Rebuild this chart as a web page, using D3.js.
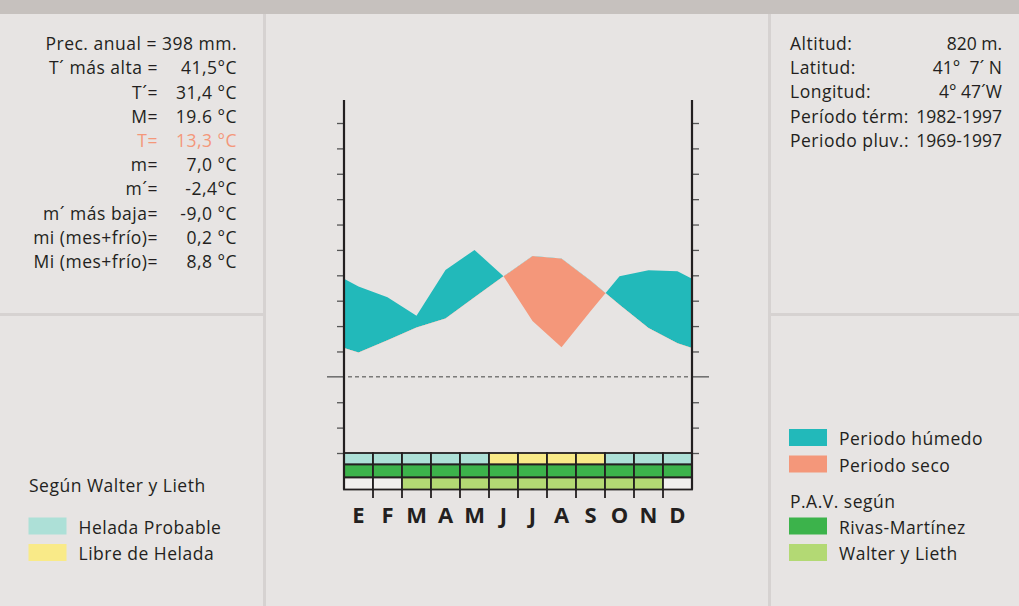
<!DOCTYPE html>
<html>
<head>
<meta charset="utf-8">
<script src="https://cdn.jsdelivr.net/npm/d3@7"></script>
<style>
  html, body { margin: 0; padding: 0; background: #e7e4e3; }
  svg { display: block; font-family: "Open Sans", "Noto Sans", sans-serif; }
  text { white-space: pre; }
</style>
</head>
<body>
<svg id="chart" width="1019" height="606"></svg>
<script>
// Monthly climate series (°C and mm)
const months = ["E", "F", "M", "A", "M", "J", "J", "A", "S", "O", "N", "D"];
const temperature = [4.8, 7.2, 9.7, 11.5, 15.7, 19.8, 23.8, 23.3, 19.0, 14.2, 9.6, 6.6];
const precipitation = [35.6, 31.4, 24.1, 42.1, 50.0, 39.6, 22.0, 11.7, 25.8, 39.6, 42.0, 41.6];

// Strips under the diagram: frost (0 = probable, 1 = free) and active vegetation period
const frost = [0, 0, 0, 0, 0, 1, 1, 1, 1, 0, 0, 0];
const pavRivas = [1, 1, 1, 1, 1, 1, 1, 1, 1, 1, 1, 1];
const pavWalter = [0, 0, 1, 1, 1, 1, 1, 1, 1, 1, 1, 0];

const tempTicks = d3.range(-15, 51, 5);

const statLabels = ["T´ más alta =", "T´=", "M=", "T=", "m=", "m´=", "m´ más baja=", "mi (mes+frío)=", "Mi (mes+frío)="];
const statValues = ["41,5°C", "31,4 °C", "19.6 °C", "13,3 °C", "7,0 °C", "-2,4°C", "-9,0 °C", "0,2 °C", "8,8 °C"];
const stationLabels = ["Altitud:", "Latitud:", "Longitud:", "Período térm:", "Periodo pluv.:"];
const stationValues = ["820 m.", "41°  7´ N", "4° 47´W", "1982-1997", "1969-1997"];

const C = {
  bg: "#e7e4e3", band: "#c6c1be", sep: "#d6d2d1", ink: "#231f20",
  wet: "#22b9ba", dry: "#f4977a", frost: "#ade0d7", free: "#f9ea88",
  rivas: "#3cb34b", walter: "#b3d974", empty: "#f1efee", tick: "#555"
};

const svg = d3.select("#chart");

// Page frame: top band and panel dividers
svg.append("rect").attr("x", 0).attr("y", 0).attr("width", 1019).attr("height", 606).attr("fill", C.bg);
svg.append("rect").attr("x", 0).attr("y", 0).attr("width", 1019).attr("height", 14).attr("fill", C.band);
svg.append("rect").attr("x", 263).attr("y", 14).attr("width", 3).attr("height", 592).attr("fill", C.sep);
svg.append("rect").attr("x", 768).attr("y", 14).attr("width", 3).attr("height", 592).attr("fill", C.sep);
svg.append("rect").attr("x", 0).attr("y", 313).attr("width", 263).attr("height", 3).attr("fill", C.sep);
svg.append("rect").attr("x", 771).attr("y", 313).attr("width", 248).attr("height", 3).attr("fill", C.sep);

// Scales
const x = d3.scaleBand().domain(d3.range(12)).range([344, 692]);
const yT = d3.scaleLinear().domain([-15, 50]).range([453, 123]);
const yP = d3.scaleLinear().domain([-30, 100]).range([453, 123]);
const left = x.range()[0], right = x.range()[1];
const cx = i => x(i) + x.bandwidth() / 2;

// Curve points, closed at both axes with the Dec–Jan mean
const edgeT = (temperature[0] + temperature[11]) / 2;
const edgeP = (precipitation[0] + precipitation[11]) / 2;
const pts = [{x: left, t: yT(edgeT), p: yP(edgeP)}]
  .concat(months.map((m, i) => ({x: cx(i), t: yT(temperature[i]), p: yP(precipitation[i])})))
  .concat([{x: right, t: yT(edgeT), p: yP(edgeP)}]);

const defs = svg.append("defs");
defs.append("clipPath").attr("id", "clip-above-t")
  .append("path").attr("d", d3.area().x(d => d.x).y0(0).y1(d => d.t)(pts));
defs.append("clipPath").attr("id", "clip-below-t")
  .append("path").attr("d", d3.area().x(d => d.x).y0(606).y1(d => d.t)(pts));

const between = d3.area().x(d => d.x).y0(d => d.t).y1(d => d.p);
svg.append("path").attr("d", between(pts)).attr("fill", C.wet).attr("clip-path", "url(#clip-above-t)");
svg.append("path").attr("d", between(pts)).attr("fill", C.dry).attr("clip-path", "url(#clip-below-t)");

// Zero line
svg.append("line").attr("x1", left + 4).attr("x2", right - 4).attr("y1", yT(0)).attr("y2", yT(0))
  .attr("stroke", "#444").attr("stroke-width", 1).attr("stroke-dasharray", "4,3");
svg.append("line").attr("x1", left - 17).attr("x2", left).attr("y1", yT(0)).attr("y2", yT(0))
  .attr("stroke", C.tick).attr("stroke-width", 1.3);
svg.append("line").attr("x1", right).attr("x2", right + 17).attr("y1", yT(0)).attr("y2", yT(0))
  .attr("stroke", C.tick).attr("stroke-width", 1.3);

// Axes (ticks without labels)
const axL = svg.append("g").attr("transform", `translate(${left},0)`)
  .call(d3.axisLeft(yT).tickValues(tempTicks.filter(v => v !== 0)).tickSize(7).tickFormat(""));
const axR = svg.append("g").attr("transform", `translate(${right},0)`)
  .call(d3.axisRight(yT).tickValues(tempTicks.filter(v => v !== 0)).tickSize(7).tickFormat(""));
[axL, axR].forEach(g => {
  g.select(".domain").remove();
  g.selectAll(".tick line").attr("stroke", C.tick).attr("stroke-width", 1.3);
});

// Strip rows
const rowY = [453, 464.5, 477.5, 489.5];
const rows = [
  frost.map(v => v ? C.free : C.frost),
  pavRivas.map(v => v ? C.rivas : C.empty),
  pavWalter.map(v => v ? C.walter : C.empty)
];
rows.forEach((cols, r) => {
  svg.append("g").selectAll("rect").data(cols).join("rect")
    .attr("x", (d, i) => x(i)).attr("y", rowY[r])
    .attr("width", x.bandwidth()).attr("height", rowY[r + 1] - rowY[r])
    .attr("fill", d => d).attr("stroke", C.ink).attr("stroke-width", 1.8);
});
// Column ticks below the strips
svg.append("g").selectAll("line").data(d3.range(1, 12)).join("line")
  .attr("x1", i => x(i)).attr("x2", i => x(i)).attr("y1", rowY[3]).attr("y2", 498)
  .attr("stroke", C.ink).attr("stroke-width", 1.8);

// Vertical axis lines
[left, right].forEach(xx => {
  svg.append("line").attr("x1", xx).attr("x2", xx).attr("y1", 100).attr("y2", rowY[3])
    .attr("stroke", C.ink).attr("stroke-width", 2.2);
});

// Month initials
svg.append("g").selectAll("text").data(months).join("text")
  .attr("x", (d, i) => cx(i)).attr("y", 523).attr("text-anchor", "middle")
  .attr("font-size", 22).attr("font-weight", 700).attr("fill", C.ink).text(d => d);

// Station statistics
const fs = 17.5;
function label(xx, yy, str, anchor, col, spacing) {
  return svg.append("text").attr("x", xx).attr("y", yy).attr("text-anchor", anchor || "start")
    .attr("font-size", fs).attr("letter-spacing", spacing === undefined ? 0.5 : spacing)
    .attr("fill", col || C.ink).text(str);
}
label(237, 50, "Prec. anual = 398 mm.", "end");
statLabels.forEach((s, i) => {
  const col = i === 3 ? C.dry : C.ink;
  const yy = 74.3 + i * 24.2;
  label(158, yy, s, "end", col);
  label(237, yy, statValues[i], "end", col);
});
stationLabels.forEach((s, i) => {
  const yy = 50 + i * 24.2;
  label(790, yy, s);
  label(1002, yy, stationValues[i], "end", C.ink, 0);
});

// Legends
function swatch(xx, yy, color, str) {
  svg.append("rect").attr("x", xx).attr("y", yy).attr("width", 38).attr("height", 17).attr("fill", color);
  label(xx + 50, yy + 16, str);
}
label(29, 492, "Según Walter y Lieth");
swatch(28.5, 517.5, C.frost, "Helada Probable");
swatch(28.5, 544, C.free, "Libre de Helada");

swatch(789, 429, C.wet, "Periodo húmedo");
swatch(789, 455.5, C.dry, "Periodo seco");
label(790, 507.5, "P.A.V. según");
swatch(789, 517.5, C.rivas, "Rivas-Martínez");
swatch(789, 544, C.walter, "Walter y Lieth");
</script>
</body>
</html>
